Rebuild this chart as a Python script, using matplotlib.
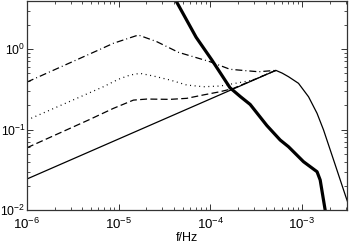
import matplotlib
matplotlib.use('Agg')
import matplotlib.pyplot as plt

plt.rcParams['font.family'] = ['Liberation Sans', 'DejaVu Sans']
plt.rcParams['mathtext.fontset'] = 'custom'
plt.rcParams['mathtext.rm'] = 'Liberation Sans'
plt.rcParams['mathtext.it'] = 'Liberation Sans:italic'
plt.rcParams['lines.scale_dashes'] = False

# thin solid
f_thin = [1.0e-6, 5.19e-4, 6.08e-4, 7.13e-4, 9.16e-4, 1.18e-3, 1.46e-3, 1.72e-3, 2.28e-3, 3.01e-3, 3.55e-3]
s_thin = [0.0243, 0.543, 0.502, 0.453, 0.375, 0.255, 0.159, 0.0986, 0.0378, 0.0146, 0.0085]

# thick solid
f_thick = [3.16e-5, 4.24e-5, 7.0e-5, 1.04e-4, 1.64e-4, 2.14e-4, 2.72e-4, 4.14e-4, 5.78e-4, 7.13e-4,
           1.04e-3, 1.46e-3, 1.58e-3, 1.79e-3, 1.91e-3]
s_thick = [7.08, 3.94, 1.40, 0.730, 0.330, 0.255, 0.205, 0.112, 0.0741, 0.0611,
           0.0398, 0.0299, 0.0236, 0.0100, 0.0063]

# dash-dot
f_dd = [1.0e-6, 6.27e-6, 8.75e-6, 1.64e-5, 2.61e-5, 4.49e-5, 9.95e-5, 1.64e-4, 3.35e-4, 5.19e-4]
s_dd = [0.389, 0.991, 1.178, 1.493, 1.233, 0.910, 0.695, 0.560, 0.522, 0.543]

# dotted
f_dot = [1.0e-6, 6.81e-6, 9.93e-6, 1.33e-5, 1.71e-5, 2.39e-5, 3.64e-5, 5.53e-5,
         8.41e-5, 1.28e-4, 1.87e-4, 2.82e-4, 5.19e-4]
s_dot = [0.131, 0.340, 0.421, 0.475, 0.499, 0.462, 0.412, 0.357,
         0.340, 0.347, 0.375, 0.407, 0.543]

# dashed
f_dash = [1.0e-6, 4.67e-6, 8.75e-6, 1.45e-5, 2.03e-5, 3.64e-5, 5.53e-5, 8.41e-5,
          1.28e-4, 1.78e-4, 5.19e-4]
s_dash = [0.0594, 0.131, 0.183, 0.232, 0.239, 0.237, 0.244, 0.269,
          0.295, 0.324, 0.543]

fig = plt.figure(figsize=(3.49, 2.46), dpi=100)
ax = fig.add_axes([0.0774, 0.1463, 0.9169, 0.8496])

ax.plot(f_thin, s_thin, color='black', lw=0.9)
ax.plot(f_dash, s_dash, color='black', lw=0.9, dashes=(5, 2.4))
ax.plot(f_dot, s_dot, color='black', lw=0.9, dashes=(0.7, 2.6))
ax.plot(f_dd, s_dd, color='black', lw=0.9, dashes=(5, 2.2, 0.7, 2.2))
ax.plot(f_thick, s_thick, color='black', lw=2.3)

ax.set_xscale('log')
ax.set_yscale('log')
ax.set_xlim(1e-6, 3.1e-3)
ax.set_ylim(1e-2, 3.95)
ax.set_xticks([1e-6, 1e-5, 1e-4, 1e-3])
ax.set_yticks([1e-2, 1e-1, 1e0])
ax.set_xticklabels([r'$10^{-6}$', r'$10^{-5}$', r'$10^{-4}$', r'$10^{-3}$'])
ax.set_yticklabels([r'$10^{-2}$', r'$10^{-1}$', r'$10^{0}$'])
ax.tick_params(which='both', direction='in', top=True, right=True, color='#333333')
ax.tick_params(which='major', length=4, width=0.7)
ax.tick_params(axis='x', which='major', pad=5, labelsize=9.5)
ax.tick_params(axis='y', which='major', pad=1, labelsize=8.8)
ax.tick_params(which='minor', length=2, width=0.6)
for sp in ax.spines.values():
    sp.set_linewidth(0.9)
    sp.set_color('#333333')
ax.set_xlabel('f/Hz', fontsize=9, labelpad=0)

fig.savefig('out.png', dpi=100)
